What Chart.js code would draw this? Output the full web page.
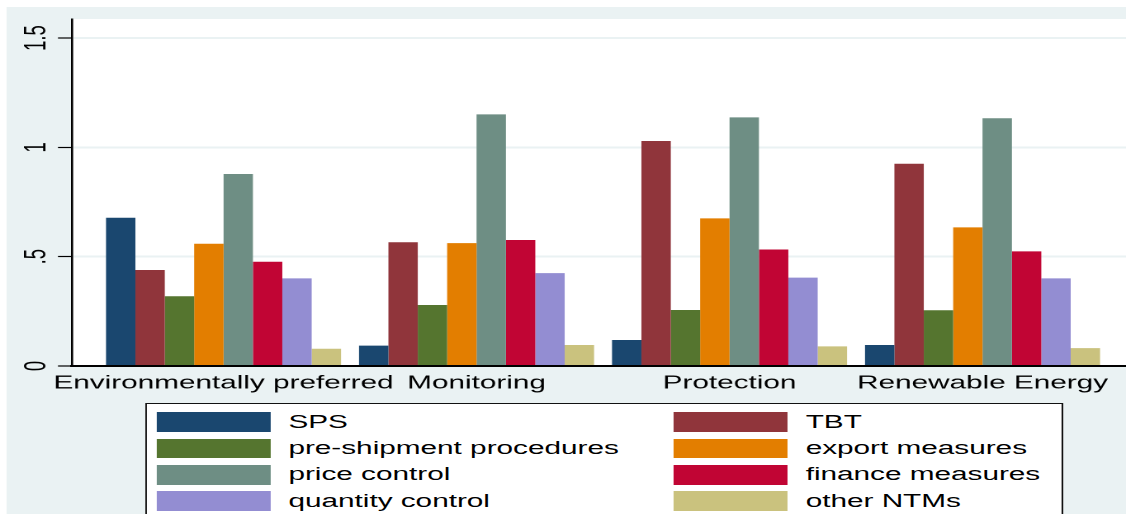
<!DOCTYPE html>
<html>
<head>
<meta charset="utf-8">
<script src="https://cdn.jsdelivr.net/npm/chart.js"></script>
<style>
  body { margin: 0; width: 1126px; height: 514px; overflow: hidden; background: #fff; }
  /* the reference is a Stata graph stretched sideways, so draw at 682px and stretch */
  #stage { position: absolute; left: 0; top: 0; width: 682px; height: 514px;
           transform: scaleX(1.651); transform-origin: 0 0;
           font-family: "Liberation Sans", Arial, sans-serif; }
  #bg { position: absolute; left: 4.2px; top: 7px; right: 0; bottom: 0; background: #eaf2f3; }
  #chartBox { position: absolute; left: 0; top: 0; width: 682px; height: 514px; }
  #legend { position: absolute; left: 87.8px; top: 403.3px; width: 556px; height: 140px;
            box-sizing: border-box; border: 1.5px solid #111; background: #fff;
            padding: 8.2px 0 0 6.3px; display: grid;
            grid-template-columns: 313.3px 1fr; row-gap: 6.8px; align-content: start; }
  .item { display: flex; align-items: center; height: 19.5px; font-size: 18px; color: #000; white-space: nowrap; }
  .sw { width: 68.6px; height: 19.5px; margin-right: 11px; flex: none; }
</style>
</head>
<body>
<div id="stage">
  <div id="bg"></div>
  <div id="chartBox"><canvas id="barChart"></canvas></div>
  <div id="legend"></div>
</div>
<script>
const categories = ['Environmentally preferred', 'Monitoring', 'Protection', 'Renewable Energy'];
const seriesNames = ['SPS', 'TBT', 'pre-shipment procedures', 'export measures',
                     'price control', 'finance measures', 'quantity control', 'other NTMs'];

const sps = [0.678, 0.093, 0.119, 0.096];
const tbt = [0.439, 0.566, 1.029, 0.925];
const preShipment = [0.319, 0.279, 0.256, 0.255];
const exportMeasures = [0.559, 0.562, 0.675, 0.634];
const priceControl = [0.878, 1.151, 1.137, 1.133];
const financeMeasures = [0.477, 0.576, 0.533, 0.524];
const quantityControl = [0.401, 0.425, 0.404, 0.401];
const otherNtms = [0.079, 0.096, 0.090, 0.082];

const yTickValues = [0, 0.5, 1, 1.5];
const yTickLabels = ['0', '.5', '1', '1.5'];

// stata s2color palette
const colors = ['#1a476f', '#90353b', '#55752f', '#e37e00', '#6e8e84', '#c10534', '#938dd2', '#cac27e'];
const FONT = '"Liberation Sans", Arial, sans-serif';

const allSeries = [sps, tbt, preShipment, exportMeasures, priceControl, financeMeasures, quantityControl, otherNtms];

const plotBackground = {
    id: 'plotBackground',
    beforeDraw(chart) {
        const {ctx, chartArea} = chart;
        ctx.save();
        ctx.fillStyle = '#fff';
        ctx.fillRect(chartArea.left, chartArea.top, chartArea.right - chartArea.left, chartArea.bottom - chartArea.top);
        ctx.restore();
    }
};

// y labels are vertical in stata, chart.js won't rotate y ticks so draw them here
const verticalYLabels = {
    id: 'verticalYLabels',
    afterDraw(chart) {
        const {ctx} = chart;
        const yScale = chart.scales.y;
        ctx.save();
        ctx.fillStyle = '#000';
        ctx.font = '18.5px ' + FONT;
        ctx.textAlign = 'center';
        ctx.textBaseline = 'alphabetic';
        yTickValues.forEach((v, i) => {
            const y = yScale.getPixelForValue(v);
            ctx.save();
            ctx.translate(27.6, y);
            ctx.rotate(-Math.PI / 2);
            ctx.fillText(yTickLabels[i], 0, 0);
            ctx.restore();
        });
        ctx.restore();
    }
};

function createBarChart() {
    const ctx = document.getElementById('barChart').getContext('2d');
    new Chart(ctx, {
        type: 'bar',
        data: {
            datasets: allSeries.map((values, k) => ({
                label: seriesNames[k],
                data: values.map((v, i) => ({x: i, y: v})),
                backgroundColor: colors[k],
                borderWidth: 0,
                categoryPercentage: 0.929,
                barPercentage: 1.0
            }))
        },
        options: {
            responsive: true,
            maintainAspectRatio: false,
            animation: false,
            devicePixelRatio: 2,
            layout: { padding: { top: 19, left: 0, right: 0, bottom: 0 } },
            plugins: {
                legend: { display: false },
                tooltip: { enabled: false }
            },
            scales: {
                x: {
                    type: 'linear',
                    offset: false,
                    min: -0.599,
                    max: 3.567,
                    grid: { display: false, drawTicks: false },
                    border: { color: '#000', width: 2 },
                    afterBuildTicks: scale => { scale.ticks = categories.map((c, i) => ({value: i})); },
                    afterFit: scale => { scale.height = 148; },
                    ticks: {
                        autoSkip: false,
                        maxRotation: 0,
                        padding: 6.5,
                        color: '#000',
                        font: { family: FONT, size: 18 },
                        callback: v => categories[v]
                    }
                },
                y: {
                    min: 0,
                    max: 1.587,
                    afterBuildTicks: scale => { scale.ticks = yTickValues.map(v => ({value: v})); },
                    afterFit: scale => { scale.width = 43.6; },
                    ticks: { display: false },
                    grid: {
                        color: '#eaf2f3',
                        lineWidth: 2,
                        drawTicks: true,
                        tickLength: 8.5,
                        tickColor: '#000',
                        tickWidth: 1.2
                    },
                    border: { color: '#000', width: 1.3 }
                }
            }
        },
        plugins: [plotBackground, verticalYLabels]
    });
}

function buildLegend() {
    const box = document.getElementById('legend');
    seriesNames.forEach((name, k) => {
        const item = document.createElement('div');
        item.className = 'item';
        const sw = document.createElement('span');
        sw.className = 'sw';
        sw.style.background = colors[k];
        const txt = document.createElement('span');
        txt.textContent = name;
        item.appendChild(sw);
        item.appendChild(txt);
        box.appendChild(item);
    });
}

document.addEventListener('DOMContentLoaded', function() {
    buildLegend();
    createBarChart();
});
</script>
</body>
</html>
